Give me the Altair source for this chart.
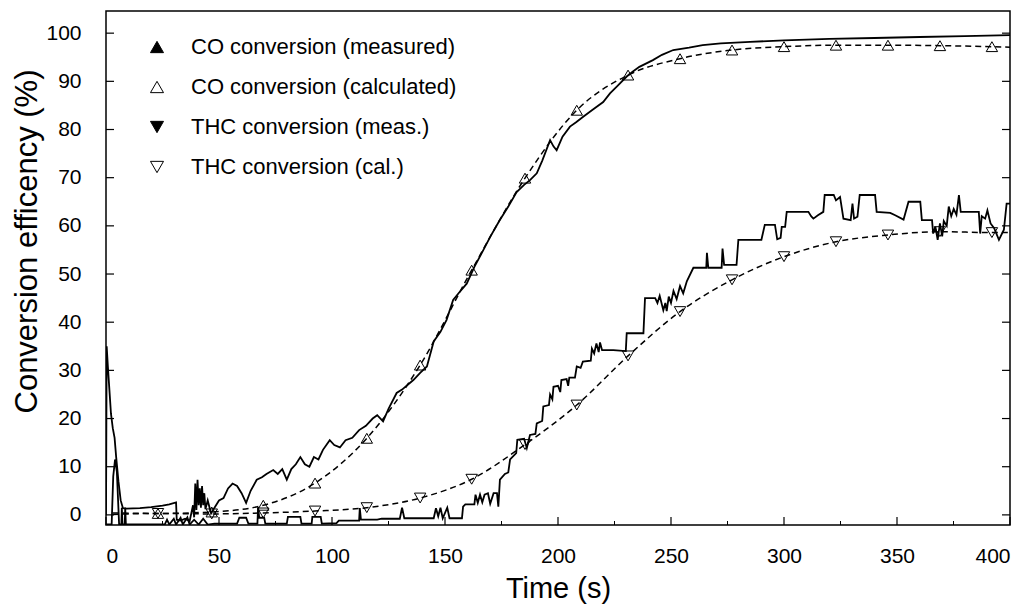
import altair as alt
import pandas as pd

SERIES = ["CO conversion (measured)", "CO conversion (calculated)",
          "THC conversion (meas.)", "THC conversion (cal.)"]

CO_MEAS_T = [0.0, 0.3, 0.8, 1.5, 2.2, 3.0, 3.8, 4.5, 5.5, 6.5, 7.5, 9, 15, 20, 25, 28, 31,
             31.3, 33, 35, 37, 38.5, 39, 39.5, 40, 40.5, 41, 41.5, 42, 42.5, 43, 43.5, 44, 45,
             46.5, 48, 50, 52, 54, 56, 58, 60, 62, 64, 66.7, 69, 71, 74, 76, 78, 80, 82, 84,
             86, 88, 90, 92, 94, 96, 99, 101, 103.5, 106, 109, 112, 115, 118, 120, 122.6, 125,
             128.6, 131, 136, 139, 142, 145, 148, 150.7, 153.6, 156, 159.6, 163, 167, 170, 174,
             178, 181.7, 185, 187.6, 190.6, 193, 196.5, 198, 199.4, 202, 205.3, 208, 211, 215,
             220, 223, 226, 230.4, 233, 236, 242, 246, 251, 258, 264, 272, 285, 300, 320, 340,
             360, 380, 400]
CO_MEAS_V = [0, 35, 31, 26, 21, 18, 16, 12, 7, 3, 1.4, 1.3, 1.4, 1.6, 1.9, 2.2, 2.6,
             -1, -1.2, -0.8, -1.3, 2, -0.5, 6.5, 1, 7.3, 2, 5.5, 1.5, 6, 2, 4.5, 1.2, 3,
             0.3, 1.5, 3, 3.5, 5.5, 6.5, 6, 4.5, 2.5, 5, 7.3, 7.8, 8.5, 9.3, 8.5, 9.5, 7.3, 9.5, 10.5,
             12, 10.5, 10, 12, 11.5, 13.5, 15.5, 14.5, 14, 15.5, 16, 17.6, 18.5, 20, 20.7, 19.4, 22,
             25.3, 26, 28, 29.5, 30.8, 36, 38, 40.5, 44.6, 46, 48, 51.5, 55, 57.7, 61,
             64, 67, 68.5, 69.5, 70.9, 73.5, 77.8, 76.5, 75.7, 78.5, 80.6, 81.5, 82.6, 84,
             85.7, 87.5, 88.9, 91, 92, 93, 94.4, 95.5, 96.5, 97, 97.5, 97.9, 98.2, 98.5, 98.8, 99,
             99.2, 99.4, 99.6]

THC_MEAS_T = [0, 2.5, 3.2, 4.0, 4.8, 5.8, 6.8, 7.0, 7.3, 8.3, 8.5, 8.8, 26, 27, 28, 30, 31, 33,
              34, 36, 37, 39, 41, 43, 45, 48, 58, 59, 62, 63, 67, 67.3, 67.8, 70, 70.5, 80, 80.5,
              86, 86.5, 91, 91.3, 95, 95.5, 102, 103, 112, 112.3, 112.8, 120, 122, 130, 131, 132,
              145, 146, 147, 148, 149, 151, 152, 157.5, 158, 159, 163, 163.5, 164.5, 165.5, 166.5,
              167.5, 169, 170, 171.5, 173, 173.6, 174.3, 176.5, 178, 178.8, 181.5, 182, 185, 186.2,
              187.6, 190, 190.6, 193, 193.5, 196, 196.5, 197.5, 198, 200, 201, 201.5, 203.8, 204.5,
              205, 207.5, 208.3, 210, 211, 214.5, 215, 216, 217, 218, 218.6, 219.5, 224.5, 230,
              230.4, 237.8, 238.5, 243, 244, 245, 246.6, 247.5, 248.1, 249, 250, 251.1, 252.5, 254,
              255.4, 257, 259.9, 265.6, 265.9, 266.5, 272.4, 272.8, 273.5, 279, 279.8, 290, 291.5,
              296, 297, 298.5, 299, 300.5, 301.2, 310.8, 312, 313, 315, 317.4, 318, 322, 323, 324.8,
              326.3, 329.5, 330.3, 331, 332.5, 333.5, 340.3, 341, 347, 349.2, 352.9, 355.1, 360.3,
              361, 365.5, 366, 367, 368, 369, 370, 370.7, 372, 372.9, 374, 375.1, 376.3, 377.4,
              378.2, 386.2, 386.8, 387.5, 389, 390, 391.4, 393, 395.1, 397.3, 398.5, 400]
THC_MEAS_V = [-2, -2, 8, 11.5, 9, -2, -2, 1.5, -2, -2, 1.5, -2, -2, -1.0, -2, -0.8, -2, -0.6,
              -2, -0.5, -2, -1, -2, -0.8, -2, -1.8, -1.8, -0.6, -0.6, -1.8, -1.8, 1.6, -0.6, -0.6, -1.8, -1.8, -0.4,
              -0.4, -1.8, -1.8, -0.4, -0.4, -1.8, -1.7, -1.2, -1.2, 1.4, -1.0, -1.0, -0.8, -0.8, 1.5, -0.7,
              -0.7, 1.4, -0.3, 1.5, -0.7, 1.5, -0.7, -0.7, 1.7, 2.2, 2.2, 4.2, 2.5, 4.2, 2.6,
              4.2, 4.5, 2.3, 4.5, 4.5, 1.7, 7.3, 8.5, 8.8, 11.5, 12.8, 15.6, 15.8, 13.9,
              16.6, 16.8, 19, 19.5, 22.5, 22.8, 25, 24, 26.6, 26.8, 25.5, 28, 28.2, 26.8,
              28.5, 28.5, 30.8, 30.5, 31.8, 32, 34.5, 33.5, 35.6, 33.8, 35.8, 34.2, 34.2, 34,
              37.7, 37.7, 45, 45, 44, 45.5, 42.5, 44, 42.3, 45.3, 44, 46.5, 44.8, 47.5,
              46, 48.5, 51.3, 51.3, 54.4, 51.3, 51.3, 55.3, 51.9, 51.9, 57.1, 57.1, 60.2,
              60.2, 57.2, 57.5, 59.8, 59.8, 62.9, 62.9, 62, 61.5, 62.2, 62.9, 66.4, 66.4, 65.3, 66,
              61.5, 61.2, 64.6, 61.5, 61.9, 66.4, 66.4, 62.9, 62.7, 62.2, 61.3, 65, 65,
              61.2, 61.2, 58.4, 59.8, 57.1, 60.5, 57.8, 61, 60, 64, 62, 63.5, 62.3, 66.4,
              62.9, 62.9, 58.4, 62, 61.5, 63.2, 60.5, 59.5, 57.1, 59.2, 64.6, 64.6]

CALC_T = [3, 23, 46.8, 69.6, 92.5, 115.4, 139, 161.8, 185.4, 208.3, 231, 254, 277, 300,
          323, 346, 369, 392, 400]
CO_CALC_V = [0.4, 0.3, 0.6, 2.0, 6.6, 15.9, 31.1, 50.8, 69.9, 84, 91.3, 94.7, 96.5, 97.2,
             97.5, 97.5, 97.4, 97.2, 97.1]
THC_CALC_V = [0.1, 0.3, 0.2, 0.4, 0.8, 1.5, 3.5, 7.4, 14.6, 22.8, 33, 42.2, 48.8, 53.6,
              56.7, 58.1, 58.8, 58.6, 58.6]

Y_TICKS = list(range(0, 101, 10))
X_TICKS = list(range(0, 401, 50))
X_MINOR = list(range(25, 400, 50))

W, H = 904, 514
FONT = "Liberation Sans"

rows = []
for t, v in zip(CO_MEAS_T, CO_MEAS_V):
    rows.append(dict(t=t, v=v, series=SERIES[0], kind="meas", mark=False))
for t, v in zip(THC_MEAS_T, THC_MEAS_V):
    rows.append(dict(t=t, v=v, series=SERIES[2], kind="meas", mark=False))
for i, (t, v) in enumerate(zip(CALC_T, CO_CALC_V)):
    rows.append(dict(t=t, v=v, series=SERIES[1], kind="calc", mark=0 < i < len(CALC_T) - 1))
for i, (t, v) in enumerate(zip(CALC_T, THC_CALC_V)):
    rows.append(dict(t=t, v=v, series=SERIES[3], kind="calc", mark=0 < i < len(CALC_T) - 1))
df = pd.DataFrame(rows)
df["i"] = range(len(df))

xscale = alt.Scale(domain=[0, 400], nice=False, zero=False)
yscale = alt.Scale(domain=[-2.1, 104.6], nice=False, zero=False)


def xenc(field="t"):
    return alt.X(f"{field}:Q", scale=xscale,
                 axis=alt.Axis(values=X_TICKS, title="Time (s)", grid=False, ticks=False,
                               domain=False, labelFontSize=21, labelPadding=20,
                               titleFontSize=29, titlePadding=8, labelFont=FONT,
                               titleFont=FONT, titleFontWeight="normal",
                               labelColor="black", titleColor="black"))


def yenc(field="v"):
    return alt.Y(f"{field}:Q", scale=yscale,
                 axis=alt.Axis(values=Y_TICKS, title="Conversion efficency (%)", grid=False,
                               ticks=False, domain=False, labelFontSize=21, labelPadding=25,
                               titleFontSize=31, titleX=-63, titleY=230, labelFont=FONT,
                               titleFont=FONT, titleFontWeight="normal",
                               labelColor="black", titleColor="black"))


LEG = dict(orient="none", legendX=40, legendY=25, title=None,
           labelFontSize=22, labelFont=FONT, labelColor="black",
           symbolSize=170, rowPadding=18, labelOffset=23, padding=0,
           symbolStrokeWidth=1, labelLimit=400)

base = alt.Chart(df)

meas = base.transform_filter(alt.datum.kind == "meas").mark_line(
    color="black", strokeWidth=1.8, clip=True
).encode(x=xenc(), y=yenc(), detail="series:N", order="i:Q")

calc = base.transform_filter(alt.datum.kind == "calc").mark_line(
    color="black", strokeWidth=1.5, strokeDash=[6, 4], interpolate="monotone", clip=True
).encode(x=xenc(), y=yenc(), detail="series:N", order="i:Q")

markers = base.transform_filter(alt.datum.mark).mark_point(
    strokeWidth=1, size=130, opacity=1
).encode(
    x=xenc(), y=yenc(),
    shape=alt.Shape("series:N", scale=alt.Scale(
        domain=SERIES, range=["triangle-up", "triangle-up", "triangle-down", "triangle-down"]),
        legend=alt.Legend(**LEG)),
    fill=alt.Fill("series:N", scale=alt.Scale(
        domain=SERIES, range=["black", "transparent", "black", "transparent"]),
        legend=alt.Legend(**LEG)),
    stroke=alt.Stroke("series:N", scale=alt.Scale(
        domain=SERIES, range=["black", "black", "black", "black"]),
        legend=alt.Legend(**LEG)),
)

ydf = pd.DataFrame({"v": Y_TICKS})
ytl = alt.Chart(ydf).mark_rule(color="black", strokeWidth=1.2).encode(
    y=yenc(), x=alt.value(0), x2=alt.value(8))
ytr = alt.Chart(ydf).mark_rule(color="black", strokeWidth=1.2).encode(
    y=yenc(), x=alt.value(W - 8), x2=alt.value(W))
xdf = pd.DataFrame({"t": X_TICKS})
xtb = alt.Chart(xdf).mark_rule(color="black", strokeWidth=1.2).encode(
    x=xenc(), y=alt.value(H - 8), y2=alt.value(H))
xmdf = pd.DataFrame({"t": X_MINOR})
xtm = alt.Chart(xmdf).mark_rule(color="black", strokeWidth=1.0).encode(
    x=xenc(), y=alt.value(H - 4), y2=alt.value(H))

chart = alt.layer(ytl, ytr, xtb, xtm, calc, meas, markers).properties(
    width=W, height=H,
    autosize=alt.AutoSizeParams(type="none"),
    padding={"left": 98, "top": 3, "right": 15, "bottom": 82},
    background="white",
).configure_view(stroke="black", strokeWidth=1.5)

chart.save("out.html", embed_options={"renderer": "svg", "actions": False})
